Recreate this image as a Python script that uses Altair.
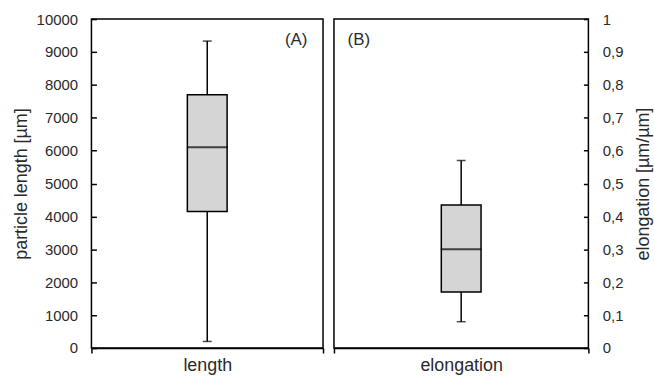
import altair as alt
import pandas as pd

# ---- data ----
categories = ["length", "elongation"]
mins = [200, 0.08]
q1s = [4150, 0.17]
medians = [6100, 0.30]
q3s = [7700, 0.435]
maxs = [9330, 0.57]
panel_labels = ["(A)", "(B)"]
y_titles = ["particle length [µm]", "elongation [µm/µm]"]
y_domains = [[0, 10000], [0, 1]]
y_ticks_left = [0, 1000, 2000, 3000, 4000, 5000, 6000, 7000, 8000, 9000, 10000]
y_ticks_right = [0, 0.1, 0.2, 0.3, 0.4, 0.5, 0.6, 0.7, 0.8, 0.9, 1]

FONT = "Liberation Sans"
TXT = "#2a2a2a"


def panel(i, width, orient, ticks, label_expr, label_x):
    df = pd.DataFrame({
        "cat": [categories[i]],
        "min": [mins[i]],
        "q1": [q1s[i]],
        "median": [medians[i]],
        "q3": [q3s[i]],
        "max": [maxs[i]],
    })
    base = alt.Chart(df)
    x = alt.X(
        "cat:N",
        scale=alt.Scale(paddingInner=0, paddingOuter=0),
        axis=alt.Axis(title=None, tickBand="extent", ticks=True, tickSize=5,
                      labelPadding=4, labelAngle=0, labelFontSize=18,
                      domainColor="black", tickColor="black", domainWidth=1.5,
                      tickWidth=1.5, labelColor=TXT, labelFont=FONT),
    )
    yscale = alt.Scale(domain=y_domains[i], nice=False, zero=True)
    main_axis_kwargs = dict(
        orient=orient, values=ticks, ticks=False, domain=False, grid=False,
        labelPadding=14, labelFontSize=15, labelColor=TXT, labelFont=FONT,
        title=y_titles[i], titleFontSize=18, titleFontWeight="normal",
        titleColor=TXT, titleFont=FONT, titlePadding=6,
    )
    if label_expr:
        main_axis_kwargs["labelExpr"] = label_expr
    else:
        main_axis_kwargs["format"] = "d"
    if orient == "right":
        main_axis_kwargs["titleAngle"] = 270
        main_axis_kwargs["titleBaseline"] = "top"
        main_axis_kwargs["titlePadding"] = 12
    main_axis = alt.Axis(**main_axis_kwargs)
    tick_axis = alt.Axis(orient=orient, values=ticks, ticks=True, tickSize=5,
                         tickWidth=1.5, tickColor="black", offset=-5,
                         labels=False, domain=False, grid=False, title=None)

    whisker = base.mark_rule(color="black", strokeWidth=1.5).encode(
        x=x, y=alt.Y("min:Q", scale=yscale, axis=main_axis), y2="max:Q")
    box = base.mark_bar(size=40, fill="#d5d5d5", stroke="black",
                        strokeWidth=1.5).encode(
        x=x, y=alt.Y("q1:Q", scale=yscale, axis=None), y2="q3:Q")
    med = base.mark_tick(size=41, thickness=2, color="black").encode(
        x=x, y=alt.Y("median:Q", scale=yscale, axis=None))
    cap_lo = base.mark_tick(size=9, thickness=1.5, color="black").encode(
        x=x, y=alt.Y("min:Q", scale=yscale, axis=None))
    cap_hi = base.mark_tick(size=9, thickness=1.5, color="black").encode(
        x=x, y=alt.Y("max:Q", scale=yscale, axis=None))
    tick_layer = base.mark_point(opacity=0).encode(
        x=x, y=alt.Y("max:Q", scale=yscale, axis=tick_axis))
    label = alt.Chart(pd.DataFrame({"t": [panel_labels[i]]})).mark_text(
        fontSize=17, font=FONT, color=TXT, align="center",
        baseline="middle").encode(
        x=alt.value(label_x), y=alt.value(21), text="t:N")

    return alt.layer(whisker, box, med, cap_lo, cap_hi, tick_layer, label).resolve_axis(
        y="independent").properties(width=width, height=331)


left = panel(0, 233, "left", y_ticks_left, None, 206)
right = panel(1, 256, "right", y_ticks_right,
              "replace(format(datum.value, '~g'), '.', ',')", 25)

chart = alt.hconcat(left, right, spacing=7).properties(
    padding={"left": 11, "top": 10, "right": 0, "bottom": 0}
).configure(
    font=FONT, background="white",
    view=alt.ViewConfig(stroke="black", strokeWidth=1.5),
)

chart.save("out.html", embed_options={"renderer": "svg", "actions": False})
